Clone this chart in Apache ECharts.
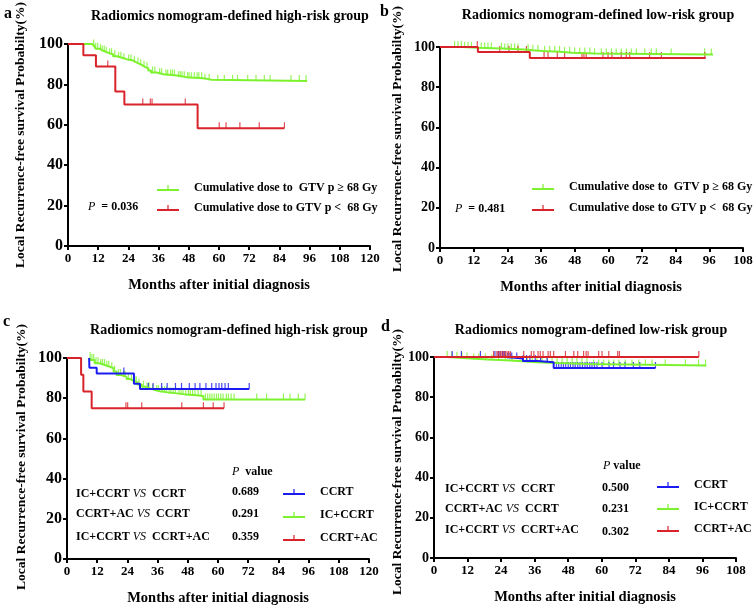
<!DOCTYPE html>
<html>
<head>
<meta charset="utf-8">
<script src="https://cdn.jsdelivr.net/npm/echarts@6/dist/echarts.min.js"></script>
<style>
  html, body { margin: 0; padding: 0; background: #fff; }
  #chart { width: 756px; height: 612px; }
</style>
</head>
<body>
<div id="chart"></div>
<script>
// ---- data ----
// Kaplan-Meier curves: [months, survival %], censor times in months
const aGreenCurve = [[0,100],[8.7,100],[9.5,99.2],[10.3,98.4],[11,97.7],[12.4,97.0],[13.5,96.3],[14.8,95.6],[16,94.9],[17.9,93.9],[19.5,93.2],[21.5,92.5],[23.3,91.8],[25.9,91.0],[27,90.3],[28.2,89.5],[29.5,88.7],[30.5,88.0],[31.9,86.9],[33,85.9],[35.2,85.0],[38,84.4],[43.2,83.6],[47,83.1],[53.8,82.3],[57,81.7],[95,81.7]];
const aGreenCensor = [10.2,11.0,11.8,12.9,13.6,14.4,15.2,16.5,17.3,18.6,20.1,21.0,22.2,24.1,25.0,26.4,27.8,28.9,30.2,31.4,33.6,34.5,36.4,37.2,38.9,39.6,40.8,41.5,42.3,43.9,44.6,45.3,46.2,47.5,48.1,49.0,50.2,51.3,52.0,53.1,54.4,56.1,59.5,62.1,65.4,67.4,71.4,74.7,78,80.3,88.6,91.9,94.6];
const aRedCurve = [[0,100],[6.1,94.4],[11.1,88.9],[18.8,76.5],[22.4,70],[51.5,58.3],[86,58.3]];
const aRedCensor = [15.8,29.7,32.7,33.4,46.6,60.1,62.8,68.3,76,86];

const bGreenCurve = [[0,100],[8,99.6],[13.5,99.2],[22,98.8],[30,98.4],[33,98.0],[36.7,97.6],[42.7,97.1],[47,96.8],[55,96.3],[97.3,96.3]];
const bGreenCensor = [5.2,6.4,7.6,8.8,10,11.2,14.7,15.9,17.1,18.3,21.9,23.1,24.2,25.4,26.6,27.8,31.4,33.1,34.9,37.3,39.1,40.9,42.6,44.4,46.2,48,49.8,51.6,53.4,55.1,57.5,59.3,61.1,62.8,64.6,66.4,68.2,70,73,75.3,77.1,82.4,94.3,96.7];
const bRedCurve = [[0,100],[13.5,97.5],[32,94.5],[94.7,94.5]];
const bRedCensor = [13.3,21.3,24.6,27.8,30.8,37.1,38.5,41.8,44.4,50.6,51.3,52.1,58.1,59.9,61.3,64.6,66.4,67.6,74.7,78.9,94.4];

const cBlueCurve = [[8.8,100],[8.9,95.1],[11.8,92.3],[26.6,87.2],[29,84.6],[72.4,84.6]];
const cBlueCensor = [22.6,32.3,34.2,37.6,39.8,43.1,45.5,48.6,50.9,52.8,55.2,57.5,59.2,60.4,61.5,62.8,64.1,72.4];
const cGreenCurve = [[8.8,100],[9.5,99],[11,97.4],[13,96.5],[15,95.6],[17.1,94.9],[18.5,93.3],[19.7,91.5],[21.5,90.6],[23.7,89.6],[25,88.8],[26.3,87.9],[28,86.8],[29.7,85.7],[31.2,84.9],[33,84.1],[35,83.5],[36.9,82.9],[40,82.4],[43.6,81.9],[47,81.5],[51.5,81.1],[54.2,79.4],[94.6,79.4]];
const cGreenCensor = [9.2,9.9,10.6,11.5,12.3,13.4,14.1,14.9,15.8,16.6,17.8,18.9,20.4,21.2,22.5,23.1,24.4,25.6,26.9,27.5,28.6,30.4,31.8,32.6,34.1,35.6,36.3,37.8,38.7,39.5,40.6,41.3,42.2,43.1,44.5,45.3,46.1,47.2,48.3,49.0,49.9,50.8,52.1,53.3,55.0,55.9,56.8,57.6,58.5,59.4,60.2,61.1,62.0,63.3,64.1,65.2,66.4,75.4,79.3,86,88.6,91.9,94.6];
const cRedCurve = [[0,100],[5.6,91.7],[6.5,83.3],[9.8,75],[62.4,75]];
const cRedCensor = [23.4,24.1,29.7,45.6,54.2,58.1,62.4];

const dBlueCurve = [[0,100],[26,99.3],[31.8,98.0],[37,97.4],[42.8,94.5],[79.2,94.5]];
const dBlueCensor = [6.5,9.8,16.6,21.8,22.9,23.6,24.5,25.3,26.4,27.2,27.8,29.6,31.9,33.1,34.3,36.2,38.1,40.5,43.8,44.6,45.5,46.3,47.1,48.0,48.8,49.7,50.5,51.4,52.2,53.1,54.0,54.8,55.7,56.5,57.4,58.3,60.1,62.6,64.2,66.5,68.3,71.3,73.6,79.2];
const dGreenCurve = [[0,100],[5,99.6],[9,99.2],[13.2,98.8],[19.3,98.3],[27.5,97.8],[33,97.4],[36.5,97.0],[44,96.5],[55,95.8],[97.4,95.8]];
const dGreenCensor = [4.7,6.4,8.2,10,11.8,14.2,16,18.4,20.7,23.1,25.5,27.9,33.3,35.1,36.8,38.6,40.4,42.2,44,45.8,47.6,49.4,51.1,52.9,54.7,57.1,58.9,60.7,62.5,64.3,66.1,68.4,70.8,73.2,75.6,78,82.7,89.9,94.6,97.1];
const dRedCurve = [[0,100],[94.7,100]];
const dRedCensor = [21.3,22.5,23.1,23.7,24.3,24.9,25.5,26.1,26.7,27.3,32.1,34.8,35.7,37.2,38,39,40.8,41.6,42.8,47,50,51.4,53.5,54.4,55.1,58.9,60.1,62.5,65.7,66.3,94.7];

const doseNames = ['Cumulative dose to  GTV p \u2265 68 Gy', 'Cumulative dose to GTV p <  68 Gy'];
const regimenNames = ['CCRT', 'IC+CCRT', 'CCRT+AC'];
const comparisons = ['IC+CCRT', 'CCRT+AC', 'IC+CCRT'];
const comparedWith = ['CCRT', 'CCRT', 'CCRT+AC'];
const cPValues = ['0.689', '0.291', '0.359'];
const dPValues = ['0.500', '0.231', '0.302'];
const panelTitles = ['Radiomics nomogram-defined high-risk group', 'Radiomics nomogram-defined low-risk group',
  'Radiomics nomogram-defined high-risk group', 'Radiomics nomogram-defined low-risk group'];
const xMax = [120, 108, 120, 108];

const GREEN = '#7cf22e', RED = '#d9232a', BLUE = '#1c1cf0';
const SERIF = '"Liberation Serif", "Times New Roman", serif';

// survival value at time t (step function)
function survAt(curve, t) {
  let v = curve[0][1];
  for (const p of curve) { if (p[0] <= t) v = p[1]; }
  return v;
}

function km(name, curve, censor, color, idx) {
  return [{
    name: name, type: 'line', step: 'end', xAxisIndex: idx, yAxisIndex: idx,
    data: curve, showSymbol: false, silent: true,
    lineStyle: { color: color, width: 2 }, itemStyle: { color: color }
  }, {
    name: name + ' censored', type: 'scatter', xAxisIndex: idx, yAxisIndex: idx,
    data: censor.map(t => [t, survAt(curve, t)]), silent: true,
    symbol: 'rect', symbolSize: [1.2, 6], symbolOffset: [0, -3],
    itemStyle: { color: color }
  }];
}

const grids = [
  { left: 68, top: 44, width: 302, height: 202 },
  { left: 440, top: 47, width: 303, height: 201 },
  { left: 67, top: 358, width: 302, height: 201 },
  { left: 434, top: 357, width: 302, height: 201 }
];
const yLabelSize = [16, 14, 16, 14];

const xAxes = grids.map((g, i) => ({
  gridIndex: i, type: 'value', min: 0, max: xMax[i], interval: 12,
  axisLine: { lineStyle: { color: '#000', width: 2 } },
  axisTick: { length: 4, lineStyle: { color: '#000', width: 2 } },
  axisLabel: { color: '#000', fontFamily: SERIF, fontWeight: 'bold', fontSize: 13, margin: 6 },
  splitLine: { show: false }
}));
const yAxes = grids.map((g, i) => ({
  gridIndex: i, type: 'value', min: 0, max: 100, interval: 20,
  axisLine: { show: true, lineStyle: { color: '#000', width: 2 } },
  axisTick: { show: true, length: 4, lineStyle: { color: '#000', width: 2 } },
  axisLabel: { color: '#000', fontFamily: SERIF, fontWeight: 'bold', fontSize: yLabelSize[i], margin: 5 },
  splitLine: { show: false }
}));

const series = [].concat(
  km(doseNames[0], aGreenCurve, aGreenCensor, GREEN, 0),
  km(doseNames[1], aRedCurve, aRedCensor, RED, 0),
  km(doseNames[0], bGreenCurve, bGreenCensor, GREEN, 1),
  km(doseNames[1], bRedCurve, bRedCensor, RED, 1),
  km(regimenNames[1], cGreenCurve, cGreenCensor, GREEN, 2),
  km(regimenNames[0], cBlueCurve, cBlueCensor, BLUE, 2),
  km(regimenNames[2], cRedCurve, cRedCensor, RED, 2),
  km(regimenNames[1], dGreenCurve, dGreenCensor, GREEN, 3),
  km(regimenNames[0], dBlueCurve, dBlueCensor, BLUE, 3),
  km(regimenNames[2], dRedCurve, dRedCensor, RED, 3)
);

const legendIcon = 'path://M0,4h22v2h-22z M10.4,0h1.2v4h-1.2z';
function legend(names, left, top, gap) {
  return {
    data: names, orient: 'vertical', left: left, top: top, itemGap: gap,
    itemWidth: 22, itemHeight: 6, icon: legendIcon, selectedMode: false, padding: 0,
    textStyle: { color: '#000', fontFamily: SERIF, fontWeight: 'bold', fontSize: 12, padding: [0, 0, 0, 10] }
  };
}

const txt = (x, y, text, size, align) => ({
  type: 'text', x: x, y: y, silent: true,
  style: { text: text, font: 'bold ' + size + 'px ' + SERIF, fill: '#000', align: align || 'left', verticalAlign: 'middle' }
});
const richTxt = (x, y, text) => ({
  type: 'text', x: x, y: y, silent: true,
  style: {
    text: text, fill: '#000', verticalAlign: 'middle',
    font: 'bold 12px ' + SERIF,
    rich: {
      n: { fontFamily: SERIF, fontWeight: 'bold', fontSize: 12, fill: '#000' },
      i: { fontFamily: SERIF, fontStyle: 'italic', fontWeight: 'normal', fontSize: 12, fill: '#000' }
    }
  }
});
const yName = 'Local Recurrence-free survival Probabilty(%)';
const vText = (x, y) => ({
  type: 'text', x: x, y: y, rotation: Math.PI / 2, silent: true,
  style: { text: yName, font: 'bold 13.5px ' + SERIF, fill: '#000', align: 'center', verticalAlign: 'middle' }
});
const xName = 'Months after initial diagnosis';

const graphics = [
  txt(4, 14, 'a', 16), txt(380, 12, 'b', 16), txt(3, 322, 'c', 16), txt(381, 327, 'd', 16),
  txt(230, 16, panelTitles[0], 14, 'center'),
  txt(598, 15, panelTitles[1], 14, 'center'),
  txt(229, 330, panelTitles[2], 14, 'center'),
  txt(591, 330, panelTitles[3], 14, 'center'),
  vText(21, 135), vText(398, 139), vText(22, 457), vText(398, 462),
  txt(219, 285, xName, 14.5, 'center'),
  txt(591, 287, xName, 14.5, 'center'),
  txt(218, 598, xName, 14.5, 'center'),
  txt(585, 597, xName, 14.5, 'center'),
  richTxt(88, 207, '{i|P}{n|  = 0.036}'),
  richTxt(455, 209, '{i|P}{n|  = 0.481}'),
  richTxt(232, 472, '{i|P}{n|  value}'),
  richTxt(603, 466, '{i|P}{n| value}')
];
comparisons.forEach((c, k) => {
  graphics.push(richTxt(76, [494, 514, 537][k], '{n|' + c + ' }{i|VS}{n|  ' + comparedWith[k] + '}'));
  graphics.push(richTxt(232, [492, 514, 537][k], '{n|' + cPValues[k] + '}'));
  graphics.push(richTxt(445, [489, 509, 530][k], '{n|' + c + ' }{i|VS}{n|  ' + comparedWith[k] + '}'));
  graphics.push(richTxt(602, [488, 509, 532][k], '{n|' + dPValues[k] + '}'));
});

const chart = echarts.init(document.getElementById('chart'));
chart.setOption({
  animation: false,
  backgroundColor: '#fff',
  grid: grids,
  xAxis: xAxes,
  yAxis: yAxes,
  legend: [
    legend(doseNames, 157, 182, 8),
    legend(doseNames, 532, 181, 9),
    legend(regimenNames, 283, 486, 11),
    legend(regimenNames, 657, 479, 10)
  ],
  graphic: graphics,
  series: series
});
window.addEventListener('resize', () => chart.resize());
</script>
</body>
</html>
